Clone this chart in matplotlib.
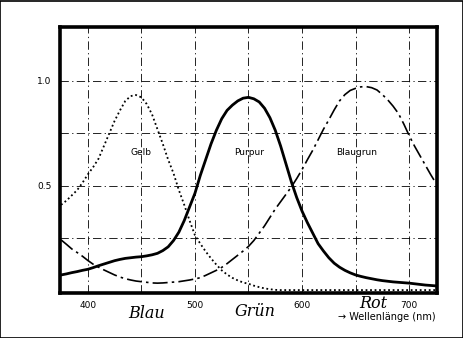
import numpy as np
import matplotlib
matplotlib.use("Agg")
import matplotlib.pyplot as plt
from matplotlib.patches import Rectangle

# wavelength (nm), sampled every 5 nm from 375 to 725
wl = [375, 380, 385, 390, 395, 400, 405, 410, 415, 420,
      425, 430, 435, 440, 445, 450, 455, 460, 465, 470,
      475, 480, 485, 490, 495, 500, 505, 510, 515, 520,
      525, 530, 535, 540, 545, 550, 555, 560, 565, 570,
      575, 580, 585, 590, 595, 600, 605, 610, 615, 620,
      625, 630, 635, 640, 645, 650, 655, 660, 665, 670,
      675, 680, 685, 690, 695, 700, 705, 710, 715, 720,
      725]

# relative sensitivity of the three dye layers
gelb = [0.41, 0.43, 0.455, 0.48, 0.515, 0.555, 0.59, 0.63, 0.69, 0.75,
        0.81, 0.86, 0.905, 0.928, 0.933, 0.922, 0.89, 0.84, 0.77, 0.70,
        0.625, 0.56, 0.48, 0.41, 0.335, 0.265, 0.225, 0.188, 0.155, 0.125,
        0.098, 0.078, 0.062, 0.05, 0.04, 0.034, 0.025, 0.018, 0.012, 0.008,
        0.005, 0.004, 0.004, 0.004, 0.004, 0.004, 0.004, 0.004, 0.004, 0.004,
        0.004, 0.004, 0.004, 0.004, 0.004, 0.004, 0.004, 0.004, 0.004, 0.004,
        0.004, 0.004, 0.004, 0.004, 0.004, 0.004, 0.004, 0.004, 0.004, 0.004,
        0.004]

purpur = [0.076, 0.081, 0.087, 0.092, 0.098, 0.103, 0.111, 0.12, 0.128, 0.136,
          0.144, 0.150, 0.155, 0.158, 0.161, 0.163, 0.167, 0.172, 0.179, 0.192,
          0.21, 0.24, 0.28, 0.335, 0.40, 0.465, 0.55, 0.625, 0.70, 0.765,
          0.82, 0.86, 0.885, 0.905, 0.918, 0.922, 0.915, 0.90, 0.87, 0.825,
          0.765, 0.69, 0.605, 0.52, 0.445, 0.38, 0.325, 0.275, 0.225, 0.19,
          0.158, 0.132, 0.113, 0.098, 0.086, 0.076, 0.069, 0.063, 0.058, 0.053,
          0.049, 0.046, 0.043, 0.041, 0.039, 0.037, 0.034, 0.031, 0.028, 0.026,
          0.024]

blaugruen = [0.243, 0.222, 0.20, 0.183, 0.165, 0.145, 0.127, 0.113, 0.10, 0.088,
             0.076, 0.066, 0.058, 0.052, 0.047, 0.044, 0.041, 0.038, 0.037, 0.038,
             0.04, 0.042, 0.044, 0.048, 0.052, 0.057, 0.063, 0.074, 0.086, 0.098,
             0.112, 0.13, 0.15, 0.17, 0.19, 0.212, 0.24, 0.275, 0.31, 0.35,
             0.39, 0.425, 0.46, 0.495, 0.535, 0.578, 0.625, 0.67, 0.72, 0.77,
             0.815, 0.862, 0.905, 0.935, 0.955, 0.965, 0.972, 0.973, 0.968, 0.957,
             0.935, 0.91, 0.88, 0.845, 0.795, 0.74, 0.69, 0.645, 0.60, 0.555,
             0.513]

xticks = [400, 500, 600, 700]
yticks = [0.5, 1.0]

fig = plt.figure(figsize=(4.64, 3.38), dpi=100)
ax = fig.add_axes([0.1293, 0.1331, 0.8125, 0.787])

# broken dash-dot grid
grid_ls = (0, (10, 4, 1.5, 4))
for x in range(400, 701, 50):
    ax.axvline(x, color="black", lw=0.6, ls=grid_ls, zorder=1)
for y in [0.25, 0.5, 0.75, 1.0]:
    ax.axhline(y, color="black", lw=0.6, ls=grid_ls, zorder=1)

ax.plot(wl, gelb, color="black", lw=1.3, ls=(0, (1, 1.5)), zorder=3)
ax.plot(wl, purpur, color="black", lw=2.0, ls="-", zorder=3)
ax.plot(wl, blaugruen, color="black", lw=1.2, ls=(0, (9, 2.5, 1.5, 2.5)), zorder=3)

ax.text(450, 0.66, "Gelb", fontsize=6.5, ha="center", va="center")
ax.text(551, 0.66, "Purpur", fontsize=6.5, ha="center", va="center")
ax.text(651, 0.66, "Blaugrun", fontsize=6.5, ha="center", va="center")

ax.set_xlim(374, 726)
ax.set_ylim(-0.01, 1.257)
ax.set_xticks(xticks)
ax.set_xticklabels([str(t) for t in xticks])
ax.set_yticks(yticks)
ax.set_yticklabels(["0.5", "1.0"])
ax.tick_params(length=0, labelsize=6.5, pad=6)
for s in ax.spines.values():
    s.set_linewidth(2.6)

# hand-lettered colour names under the axis
hand = dict(fontsize=11.5, fontstyle="italic", family="DejaVu Serif",
            ha="center", va="center", transform=fig.transFigure)
fig.text(147 / 464, 1 - 313 / 338, "Blau", **hand)
fig.text(255 / 464, 1 - 312 / 338, "Grün", **hand)
fig.text(373 / 464, 1 - 303 / 338, "Rot", **hand)
fig.text(338 / 464, 1 - 317 / 338, "→ Wellenlänge (nm)", fontsize=7,
         ha="left", va="center")

fig.patches.append(Rectangle((0.001, 0.001), 0.997, 0.997, transform=fig.transFigure,
                             fill=False, lw=1.2, edgecolor="black"))

fig.savefig("out.png", dpi=100)
